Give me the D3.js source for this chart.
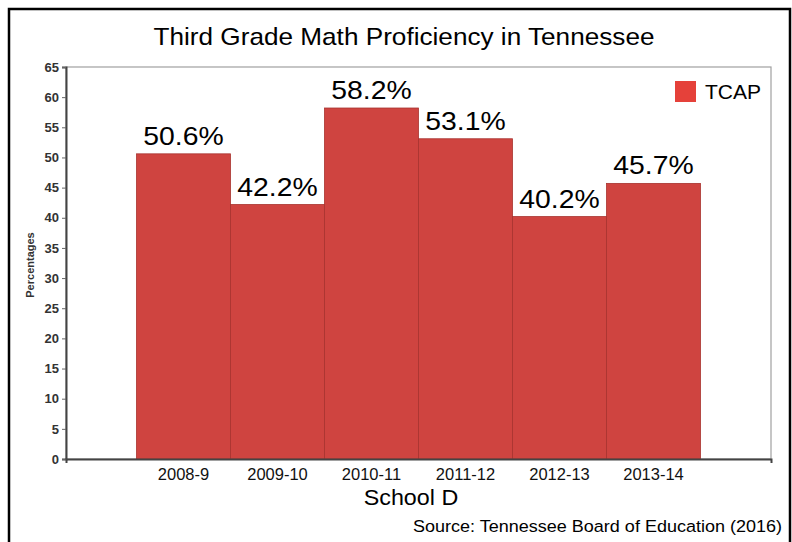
<!DOCTYPE html>
<html>
<head>
<meta charset="utf-8">
<script src="https://cdn.jsdelivr.net/npm/d3@7"></script>
<style>
  html, body { margin: 0; padding: 0; background: #fff; }
  svg { display: block; }
  text { font-family: "Liberation Sans", Arial, sans-serif; }
</style>
</head>
<body>
<svg id="chart" width="792" height="542"></svg>
<script>
const categories = ["2008-9", "2009-10", "2010-11", "2011-12", "2012-13", "2013-14"];
const values = [50.6, 42.2, 58.2, 53.1, 40.2, 45.7];
const valueLabels = ["50.6%", "42.2%", "58.2%", "53.1%", "40.2%", "45.7%"];
const yTicks = [0, 5, 10, 15, 20, 25, 30, 35, 40, 45, 50, 55, 60, 65];
const seriesName = "TCAP";
const title = "Third Grade Math Proficiency in Tennessee";
const xTitle = "School D";
const yTitle = "Percentages";
const source = "Source: Tennessee Board of Education (2016)";

const svg = d3.select("#chart");
const plot = { left: 66, top: 67, right: 771, bottom: 459 };

// outer frame
svg.append("rect").attr("x", 9).attr("y", 9).attr("width", 781).attr("height", 560)
  .attr("fill", "none").attr("stroke", "#000").attr("stroke-width", 2.5);

const x = d3.scaleBand().domain(categories)
  .range([plot.left, plot.right]).paddingInner(0).paddingOuter(0.75);
const y = d3.scaleLinear().domain([0, 65]).range([plot.bottom, plot.top]);

// plot frame (top/right grey)
svg.append("rect").attr("x", plot.left).attr("y", plot.top)
  .attr("width", plot.right - plot.left).attr("height", plot.bottom - plot.top)
  .attr("fill", "none").attr("stroke", "#a0a0a0").attr("stroke-width", 1.2);

// bars
svg.append("g").selectAll("rect").data(values).join("rect")
  .attr("x", (d, i) => x(categories[i]))
  .attr("y", d => y(d))
  .attr("width", x.bandwidth())
  .attr("height", d => y(0) - y(d))
  .attr("fill", "#cf4440")
  .attr("stroke", "#a8332f")
  .attr("stroke-width", 0.8);

// value labels (slightly wide glyphs, as in the reference)
svg.append("g").selectAll("text").data(values).join("text")
  .attr("transform", (d, i) => `translate(${x(categories[i]) + x.bandwidth() / 2},${y(d) - 9}) scale(1.07,1)`)
  .attr("text-anchor", "middle")
  .attr("font-size", 26.5)
  .attr("fill", "#000")
  .text((d, i) => valueLabels[i]);

// y axis
const yAxis = d3.axisLeft(y).tickValues(yTicks).tickSize(4).tickPadding(3);
const gy = svg.append("g").attr("transform", `translate(${plot.left},0)`).call(yAxis);
gy.select(".domain").attr("stroke", "#444").attr("stroke-width", 2);
gy.selectAll(".tick line").attr("stroke", "#666");
gy.selectAll(".tick text").attr("font-size", 13).attr("font-weight", "bold")
  .attr("fill", "#333").attr("font-family", "Liberation Sans, Arial, sans-serif");

// x axis
const xAxis = d3.axisBottom(x).tickSize(0).tickPadding(9).tickSizeOuter(4);
const gx = svg.append("g").attr("transform", `translate(0,${plot.bottom})`).call(xAxis);
gx.select(".domain").attr("stroke", "#444").attr("stroke-width", 2);
gx.selectAll(".tick text").attr("font-size", 16.5).attr("fill", "#111")
  .attr("font-family", "Liberation Sans, Arial, sans-serif");

// title
svg.append("text").attr("transform", "translate(404,45) scale(1.09,1)").attr("text-anchor", "middle")
  .attr("font-size", 24).attr("fill", "#000").text(title);

// x title
svg.append("text").attr("transform", "translate(411,505) scale(1.06,1)").attr("text-anchor", "middle")
  .attr("font-size", 22).attr("fill", "#000").text(xTitle);

// y title
svg.append("text").attr("transform", "translate(34,265) rotate(-90)")
  .attr("text-anchor", "middle").attr("font-size", 11).attr("font-weight", "bold")
  .attr("fill", "#333").text(yTitle);

// source
svg.append("text").attr("transform", "translate(782,532) scale(1.06,1)").attr("text-anchor", "end")
  .attr("font-size", 17).attr("fill", "#000").text(source);

// legend
svg.append("rect").attr("x", 675).attr("y", 81).attr("width", 21).attr("height", 21)
  .attr("fill", "#e5413a");
svg.append("text").attr("x", 705).attr("y", 99).attr("font-size", 21)
  .attr("fill", "#000").text(seriesName);
</script>
</body>
</html>
